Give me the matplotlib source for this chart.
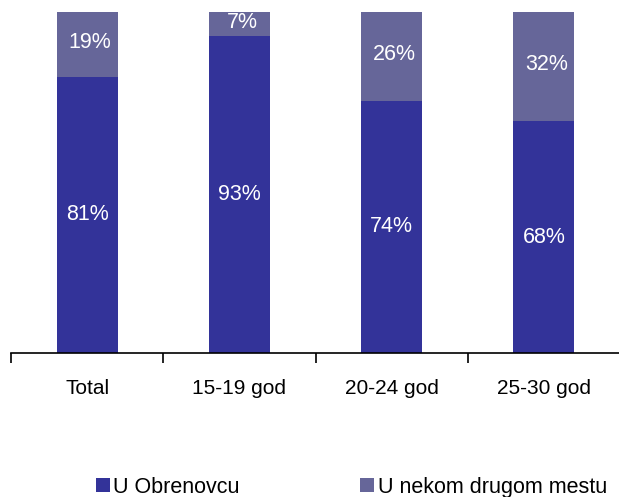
import matplotlib.pyplot as plt
import numpy as np
from matplotlib.patches import Patch

plt.rcParams['font.family'] = ['Liberation Sans', 'DejaVu Sans']

categories = ['Total', '15-19 god', '20-24 god', '25-30 god']
u_obrenovcu = [81, 93, 74, 68]
drugo_mesto = [19, 7, 26, 32]
series_names = ['U Obrenovcu', 'U nekom drugom mestu']

c_dark = '#333399'
c_light = '#666699'

fig = plt.figure(figsize=(6.19, 4.97), dpi=100)
ax = fig.add_axes([11 / 619, 144 / 497, 609 / 619, 341 / 497])

x = np.arange(len(categories))
w = 0.40
ax.bar(x, u_obrenovcu, w, color=c_dark)
ax.bar(x, drugo_mesto, w, bottom=u_obrenovcu, color=c_light)

for i in range(len(categories)):
    ax.text(x[i], u_obrenovcu[i] / 2, f'{u_obrenovcu[i]}%', ha='center', va='center',
            color='white', fontsize=15.5)
    ax.text(x[i] + 0.02, u_obrenovcu[i] + drugo_mesto[i] / 2 + 0.5, f'{drugo_mesto[i]}%',
            ha='center', va='center', color='white', fontsize=15.5)

ax.set_xlim(-0.5, 3.5)
ax.set_ylim(0, 100)
ax.set_yticks([])
for s in ['top', 'right', 'left']:
    ax.spines[s].set_visible(False)
ax.spines['bottom'].set_linewidth(1.2)
ax.set_xticks(x)
ax.set_xticklabels(categories, fontsize=15)
ax.tick_params(axis='x', which='major', length=0, pad=19)
ax.set_xticks(np.arange(-0.5, 4, 1), minor=True)
ax.tick_params(axis='x', which='minor', length=7, width=1.2)

handles = [Patch(facecolor=c_dark), Patch(facecolor=c_light)]
fig.legend(handles, series_names, loc='center', bbox_to_anchor=(0.568, 0.02),
           ncol=2, frameon=False, fontsize=15.5, handlelength=0.65, handleheight=0.65,
           handletextpad=0.15, columnspacing=5.6)

fig.savefig('out.png', dpi=100)
